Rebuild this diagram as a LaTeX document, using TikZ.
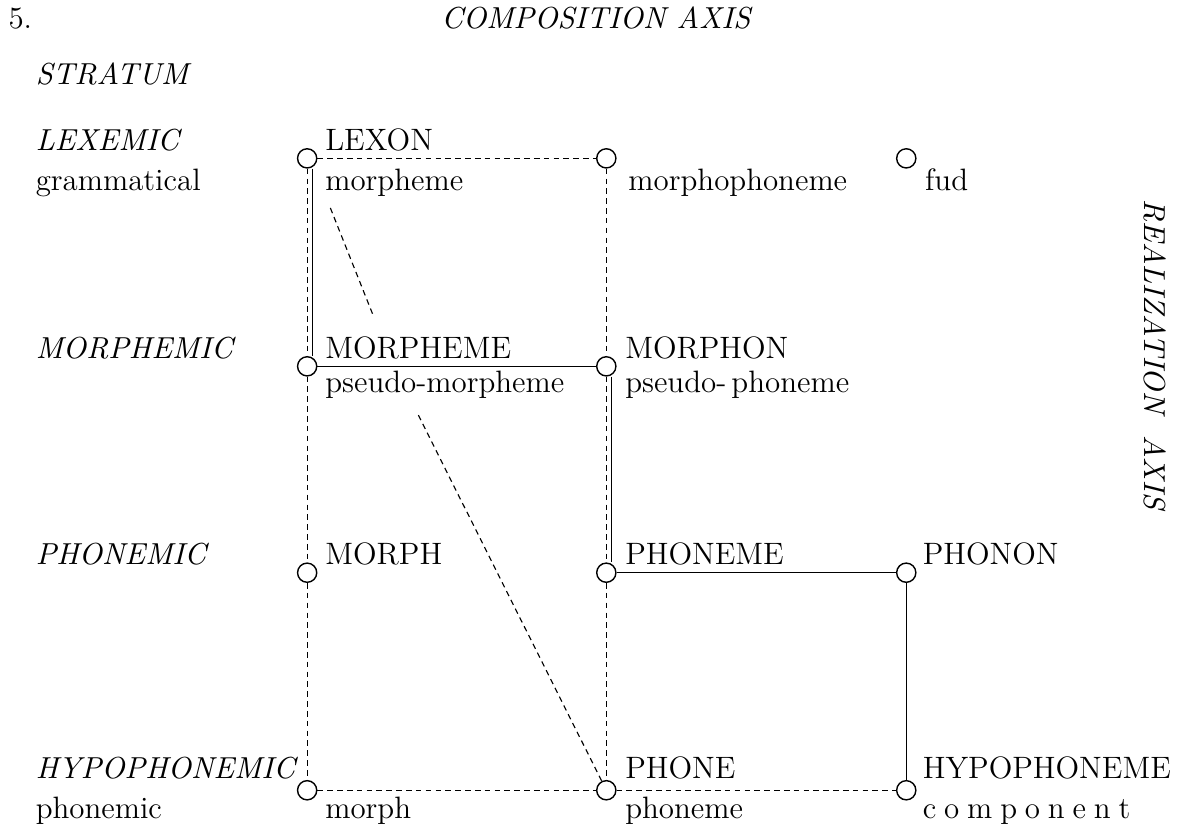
\documentclass[tikz,border=0pt]{standalone}

\begin{document}
\begin{tikzpicture}[
    vertex/.style ={circle, draw, line width=0.5pt, inner sep = 0pt, minimum size=2.4mm},
    unit/.style ={anchor=base west, inner sep=0pt, font=\fontsize{11}{13}\selectfont},
    stratum/.style ={anchor=base west, inner sep=0pt, font=\itshape\fontsize{10.8}{13}\selectfont},
    faint/.style ={line width=0.4pt, dash pattern=on 2pt off 1.5pt},
    firm/.style ={line width=0.4pt}]
   \useasboundingbox (0,0) rectangle (14.79,-10.29);
   % headings
   \node[unit] (num) at (0.10,-0.36) {5.};
   \node[stratum, anchor=base] (comp) at (7.45,-0.36) {COMPOSITION AXIS};
   \node[stratum] (strat) at (0.44,-1.06) {STRATUM};
   \node[stratum, anchor=center, rotate=-90] (real) at (14.44,-4.43) {REALIZATION\ \ AXIS};
   % strata
   \node[stratum] (lexemic) at (0.44,-1.88) {LEXEMIC};
   \node[unit] (gramm) at (0.44,-2.38) {grammatical};
   \node[stratum] (morphemic) at (0.44,-4.48) {MORPHEMIC};
   \node[stratum] (phonemic) at (0.44,-7.06) {PHONEMIC};
   \node[stratum] (hypophonemic) at (0.44,-9.73) {HYPOPHONEMIC};
   \node[unit] (phonemicB) at (0.44,-10.23) {phonemic};
   % units
   \node[vertex] (lexon) at (3.84,-1.98) {};
   \node[vertex] (mphon) at (7.58,-1.98) {};
   \node[vertex] (fud) at (11.33,-1.98) {};
   \node[vertex] (morpheme) at (3.84,-4.58) {};
   \node[vertex] (morphon) at (7.58,-4.58) {};
   \node[vertex] (morph) at (3.84,-7.16) {};
   \node[vertex] (phoneme) at (7.58,-7.16) {};
   \node[vertex] (phonon) at (11.33,-7.16) {};
   \node[vertex] (hypo) at (3.84,-9.88) {};
   \node[vertex] (phone) at (7.58,-9.88) {};
   \node[vertex] (hypophoneme) at (11.33,-9.88) {};
   % unit names
   \node[unit] (lexonT) at (4.06,-1.88) {LEXON};
   \node[unit] (lexonB) at (4.06,-2.38) {morpheme};
   \node[unit] (mphonB) at (7.85,-2.38) {morphophoneme};
   \node[unit] (fudB) at (11.56,-2.38) {fud};
   \node[unit] (morphemeT) at (4.06,-4.48) {MORPHEME};
   \node[unit] (morphemeB) at (4.06,-4.91) {pseudo-morpheme};
   \node[unit] (morphonT) at (7.81,-4.48) {MORPHON};
   \node[unit] (morphonB) at (7.81,-4.91) {pseudo-\,phoneme};
   \node[unit] (morphT) at (4.06,-7.06) {MORPH};
   \node[unit] (phonemeT) at (7.81,-7.06) {PHONEME};
   \node[unit] (phononT) at (11.53,-7.06) {PHONON};
   \node[unit] (hypoB) at (4.06,-10.23) {morph};
   \node[unit] (phoneT) at (7.81,-9.73) {PHONE};
   \node[unit] (phoneB) at (7.81,-10.23) {phoneme};
   \node[unit] (hypophonemeT) at (11.53,-9.73) {HYPOPHONEME};
   \node[unit] (hypophonemeB) at (11.53,-10.23) {c\kern2.8pt o\kern2.8pt m\kern2.8pt p\kern2.8pt o\kern2.8pt n\kern2.8pt e\kern2.8pt n\kern2.8pt t};
   % free ends of the diagonals
   \coordinate (diagA) at (4.13,-2.60);
   \coordinate (diagB) at (4.66,-3.93);
   \coordinate (diagC) at (5.23,-5.19);
   % connectors
   \draw[faint] (lexon) to (mphon);
   \draw[faint] (lexon) to (morpheme);
   \draw[firm] ([xshift=1.8pt]lexon.south) to ([xshift=1.8pt]morpheme.north);
   \draw[faint] (diagA) to (diagB);
   \draw[faint] (mphon) to (morphon);
   \draw[firm] (morpheme) to (morphon);
   \draw[faint] (morpheme) to (morph);
   \draw[faint] (morphon) to (phoneme);
   \draw[firm] ([xshift=1.8pt]morphon.south) to ([xshift=1.8pt]phoneme.north);
   \draw[faint] (diagC) to (phone);
   \draw[faint] (morph) to (hypo);
   \draw[faint] (phoneme) to (phone);
   \draw[firm] (phoneme) to (phonon);
   \draw[firm] (phonon) to (hypophoneme);
   \draw[faint] (hypo) to (phone);
   \draw[faint] (phone) to (hypophoneme);
 \end{tikzpicture}
\end{document}
